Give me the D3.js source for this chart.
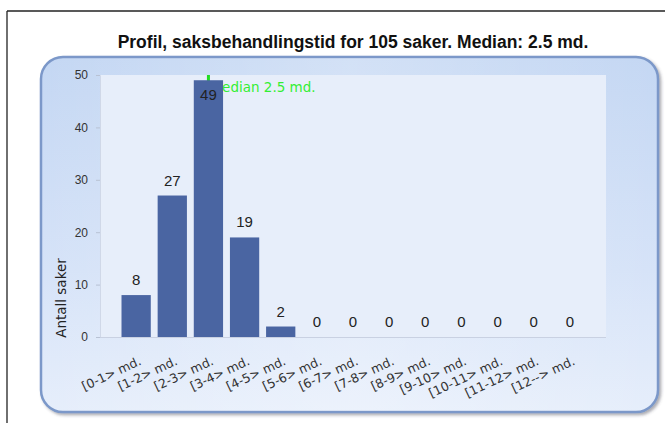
<!DOCTYPE html>
<html><head><meta charset="utf-8">
<script src="https://cdn.jsdelivr.net/npm/d3@7"></script>
<style>html,body{margin:0;padding:0;background:#fff;}svg{display:block;}</style>
</head><body>
<script>
const categories = ["[0-1> md.","[1-2> md.","[2-3> md.","[3-4> md.","[4-5> md.","[5-6> md.","[6-7> md.","[7-8> md.","[8-9> md.","[9-10> md.","[10-11> md.","[11-12> md.","[12--> md."];
const counts = [8,27,49,19,2,0,0,0,0,0,0,0,0];
const yTicks = [0,10,20,30,40,50];
const medianValue = 2.5;
const medianLabel = "Median 2.5 md.";
const titleText = "Profil, saksbehandlingstid for 105 saker. Median: 2.5 md.";
const yTitle = "Antall saker";

const W = 665, H = 423;
const svg = d3.select("body").append("svg").attr("width", W).attr("height", H);
const defs = svg.append("defs");
const g1 = defs.append("linearGradient").attr("id","pg").attr("x1",0).attr("y1",0).attr("x2",0).attr("y2",1);
g1.append("stop").attr("offset","0%").attr("stop-color","#c4d7f3");
g1.append("stop").attr("offset","60%").attr("stop-color","#d6e3f8");
g1.append("stop").attr("offset","100%").attr("stop-color","#e6eefb");
const g2 = defs.append("linearGradient").attr("id","ph").attr("x1",0).attr("y1",0).attr("x2",1).attr("y2",0);
g2.append("stop").attr("offset","0%").attr("stop-color","#ffffff").attr("stop-opacity",0);
g2.append("stop").attr("offset","50%").attr("stop-color","#ffffff").attr("stop-opacity",0.25);
g2.append("stop").attr("offset","100%").attr("stop-color","#ffffff").attr("stop-opacity",0);
const sh = defs.append("filter").attr("id","sh").attr("x","-5%").attr("y","-5%").attr("width","110%").attr("height","110%");
sh.append("feDropShadow").attr("dx",2).attr("dy",2).attr("stdDeviation",1.5).attr("flood-color","#445").attr("flood-opacity",0.45);

// outer frame lines
svg.append("line").attr("x1",7).attr("y1",11).attr("x2",W).attr("y2",11).attr("stroke","#222").attr("stroke-width",1.3);
svg.append("line").attr("x1",7).attr("y1",11).attr("x2",7).attr("y2",H).attr("stroke","#222").attr("stroke-width",1.3);

// title
svg.append("text").attr("x",353).attr("y",48).attr("text-anchor","middle")
  .attr("font-family","Liberation Sans, Arial, sans-serif").attr("font-weight","bold").attr("font-size",17.5)
  .attr("fill","#111").text(titleText);

// panel
svg.append("rect").attr("x",41).attr("y",57).attr("width",617).attr("height",355).attr("rx",22).attr("ry",22)
  .attr("fill","url(#pg)").attr("stroke","#7b98c9").attr("stroke-width",2.5).attr("filter","url(#sh)");
svg.append("rect").attr("x",42).attr("y",58).attr("width",615).attr("height",353).attr("rx",21)
  .attr("fill","url(#ph)");

const plot = {x0:100, x1:606, y0:75, y1:337};
svg.append("rect").attr("x",plot.x0).attr("y",plot.y0).attr("width",plot.x1-plot.x0).attr("height",plot.y1-plot.y0)
  .attr("fill","#e7eefa");

const stepGuess = (plot.x1-plot.x0)/14;
const x = d3.scaleBand().domain(categories).range([plot.x0+stepGuess/2, plot.x1-stepGuess/2]).paddingInner(0.19).paddingOuter(0.095);
const y = d3.scaleLinear().domain([0,50]).range([plot.y1, plot.y0]);

// y axis
const yAxis = svg.append("g").attr("transform",`translate(${plot.x0},0)`)
  .call(d3.axisLeft(y).tickValues(yTicks).tickSize(4).tickPadding(8));
yAxis.select(".domain").attr("stroke","#d0d8e8");
yAxis.selectAll(".tick line").attr("stroke","#b8c2d4");
yAxis.selectAll(".tick text").attr("font-family","Liberation Sans, Arial, sans-serif").attr("font-size",12).attr("fill","#333");

// x axis
const xAxis = svg.append("g").attr("transform",`translate(0,${plot.y1})`)
  .call(d3.axisBottom(x).tickSize(0).tickPadding(0));
xAxis.select(".domain").attr("stroke","#c9d1e2").attr("d",`M${plot.x0},0.5H${plot.x1}`);
xAxis.selectAll(".tick text")
  .attr("font-family","DejaVu Sans, Verdana, sans-serif").attr("font-size",12.5).attr("fill","#333")
  .attr("text-anchor","end").attr("dy",0).attr("y",0)
  .attr("transform","translate(6,27) rotate(-25)");

// median line
const medX = x(categories[Math.floor(medianValue)]) + x.bandwidth()/2;
svg.append("line").attr("x1",medX).attr("x2",medX).attr("y1",plot.y0).attr("y2",plot.y1)
  .attr("stroke","#22dd22").attr("stroke-width",3);
svg.append("text").attr("x",medX+2).attr("y",plot.y0+17).attr("font-family","DejaVu Sans, Verdana, sans-serif")
  .attr("font-size",13.5).attr("fill","#33ee33").text(medianLabel);

// bars
svg.selectAll("rect.bar").data(counts).enter().append("rect").attr("class","bar")
  .attr("x",(d,i)=>x(categories[i])).attr("width",x.bandwidth())
  .attr("y",d=>y(d)).attr("height",d=>plot.y1-y(d)).attr("fill","#4a65a2");

// value labels
svg.selectAll("text.val").data(counts).enter().append("text").attr("class","val")
  .attr("x",(d,i)=>x(categories[i])+x.bandwidth()/2)
  .attr("y",d=> y(d)-10 < plot.y0+10 ? y(d)+20 : y(d)-10)
  .attr("text-anchor","middle").attr("font-family","Liberation Sans, Arial, sans-serif").attr("font-size",15)
  .attr("fill","#222").text(d=>d);

// y title
svg.append("text").attr("transform","translate(66,298) rotate(-90)").attr("text-anchor","middle")
  .attr("font-family","DejaVu Sans, Verdana, sans-serif").attr("font-size",13.5).attr("fill","#222").text(yTitle);
</script>
</body></html>
